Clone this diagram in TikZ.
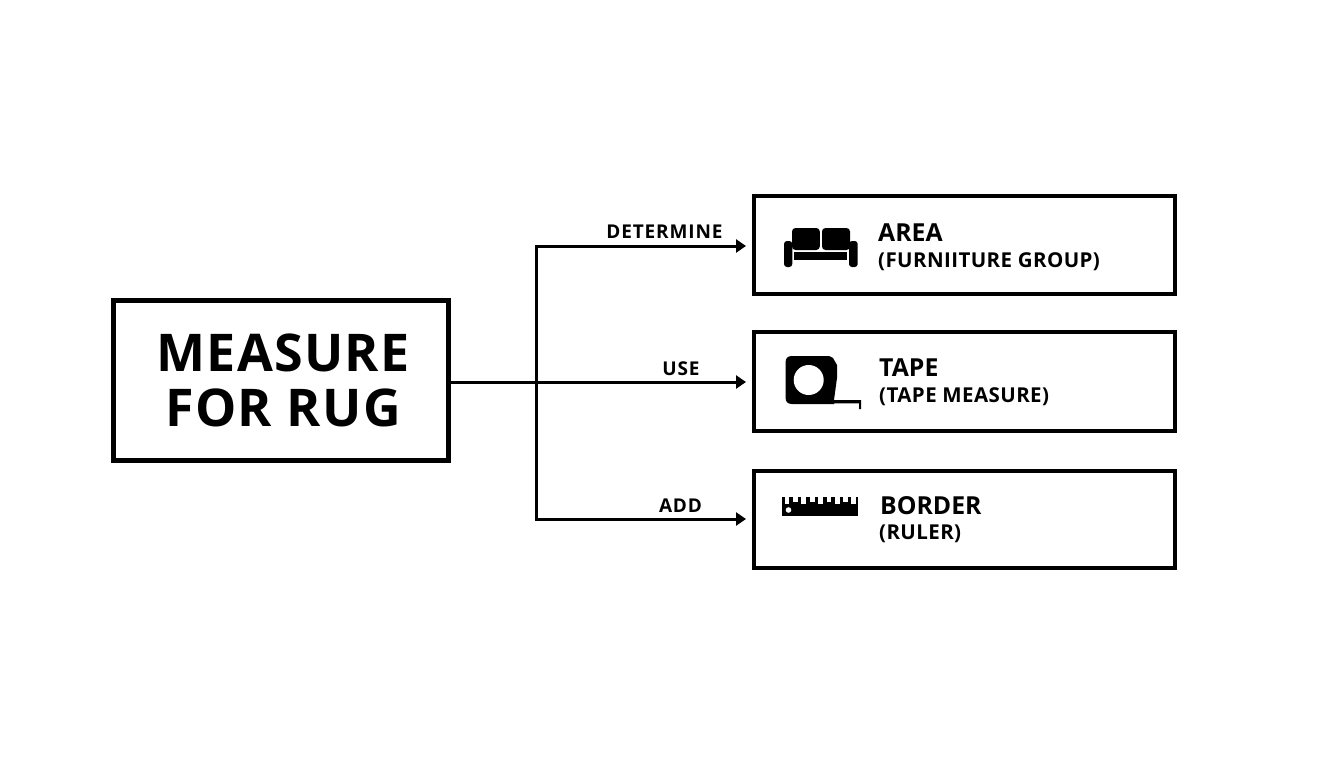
\documentclass[tikz,border=0pt]{standalone}
\usepackage{fontspec}
\setmainfont{Open Sans}
\newfontfamily\widefont{Open Sans}[LetterSpace=4.6]
\newfontfamily\midfont{Open Sans}[LetterSpace=2.5]
\newfontfamily\subfont{Open Sans}[LetterSpace=2]
\usetikzlibrary{arrows.meta}
\tikzset{
 mainbox/.style={draw=black,line width=5.3pt,minimum width=334.7pt,minimum height=159.7pt,inner sep=0pt,align=center,font=\fontsize{52}{55}\selectfont\midfont\bfseries},
 itembox/.style={draw=black,line width=4pt,minimum width=421pt,inner sep=0pt},
 conn/.style={draw=black,line width=3pt},
 arr/.style={conn,-{Triangle[length=10pt,width=13pt]},shorten >=7pt},
 lab/.style={font=\fontsize{19}{20}\selectfont\widefont\bfseries,anchor=base,inner sep=0pt},
 head/.style={font=\fontsize{24.8}{26}\selectfont\bfseries,anchor=base west,inner sep=0pt},
 sub/.style={font=\fontsize{20.5}{22}\selectfont\subfont\bfseries,anchor=base west,inner sep=0pt},
}
\begin{document}
\begin{tikzpicture}[x=1pt,y=-1pt]
\useasboundingbox (0,0) rectangle (1344,768);
\fill[white] (0,0) rectangle (1344,768);
\node[mainbox] (main) at (281,380.5) {\hspace*{4pt}MEASURE\\\hspace*{4pt}FOR RUG};
\node[itembox,minimum height=98pt] (area) at (964.5,245) {};
\node[itembox,minimum height=99pt] (tape) at (964.5,381.5) {};
\node[itembox,minimum height=97pt] (border) at (964.5,519) {};
\coordinate (j) at (536,382);
\coordinate (ta) at (753,246);
\coordinate (tt) at (753,382);
\coordinate (tb) at (753,519);
\draw[conn] (main.east |- j) -- (j);
\draw[arr] (j) -- (tt);
\draw[arr] (j) |- (ta);
\draw[arr] (j) |- (tb);
\node[lab] (l1) at (664.5,238) {DETERMINE};
\node[lab] (l2) at (681,375) {USE};
\node[lab] (l3) at (680.5,512) {ADD};
\node[head] (t1) at (878,241) {AREA};
\node[sub] (s1) at (878,267) {(FURNIITURE GROUP)};
\node[head] (t2) at (879,376) {TAPE};
\node[sub] (s2) at (879,402) {(TAPE MEASURE)};
\node[head] (t3) at (880,514) {BORDER};
\node[sub] (s3) at (879,539) {(RULER)};
% sofa icon
\fill[black,rounded corners=3.5pt] (792,228) -- (819.8,228) -- (819.8,250) -- (792,250) -- cycle;
\fill[black,rounded corners=3.5pt] (822,228) -- (850,228) -- (850,250) -- (822,250) -- cycle;
\fill[black] (794,252.3) rectangle (847,260);
\fill[black,rounded corners=3pt] (784,241) rectangle (792.3,267);
\fill[black,rounded corners=3pt] (849,241) rectangle (857.7,267);
% tape measure icon
\fill[black] (792.5,356) -- (829,356) -- (833,358) -- (837,365) -- (837,378) -- (834,400) -- (861,400) -- (861,409) -- (859,409) -- (859,403.4) -- (834,403.4) -- (834,404) -- (792.5,404) .. controls (787.5,404) and (785.5,402) .. (785.5,397) -- (785.5,363) .. controls (785.5,358) and (787.5,356) .. (792.5,356) -- cycle;
\fill[white] (808.7,380) circle (15pt);
% ruler icon
\fill[black] (782,497) rectangle (857.5,516);
\foreach \x/\d in {787/7,795.4/5,803.8/7,812.2/5,820.6/7,829/5,837.4/7,845.8/5,853.5/7}{\fill[white] (\x-2.4,496.5) rectangle (\x+2.4,497+\d);}
\fill[white] (788.5,510) circle (2.8pt);
\end{tikzpicture}
\end{document}
